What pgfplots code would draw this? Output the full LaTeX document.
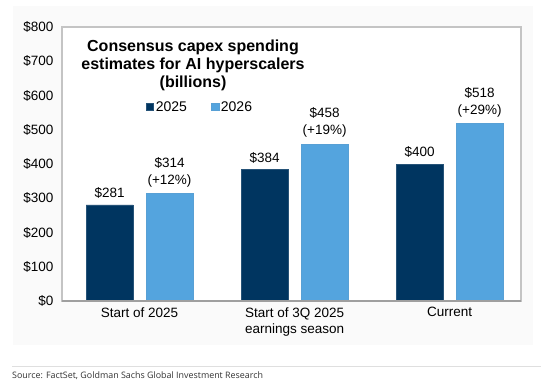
\documentclass[border=0pt]{standalone}
\usepackage{pgfplots}
\pgfplotsset{compat=1.18}
\usepackage{fontspec}
\setmainfont{Liberation Sans}
\newfontfamily\srcfont{Open Sans}
\definecolor{dark}{RGB}{0,53,96}
\definecolor{light}{RGB}{84,164,222}
\definecolor{bg}{RGB}{250,250,250}
\definecolor{frame}{RGB}{196,196,196}
\begin{document}
\begin{tikzpicture}[x=1pt,y=1pt]
\useasboundingbox (0,0) rectangle (547,384);
\fill[bg] (13,39) rectangle (533,378);
\fill[white] (62,83) rectangle (521,357);
\begin{axis}[
  at={(62pt,83pt)}, anchor=south west,
  scale only axis, width=459pt, height=274pt,
  xmin=-0.5, xmax=2.46, ymin=0, ymax=800,
  axis line style={draw=frame, line width=1.2pt},
  major tick length=0pt,
  ytick={0,100,...,800},
  yticklabel={\$\pgfmathprintnumber{\tick}},
  /pgf/number format/assume math mode=true,
  yticklabel style={font=\fontsize{13.5}{16}\selectfont, xshift=-5pt},
  xtick={0,1,2},
  xticklabels={Start of 2025, Start of 3Q 2025\\earnings season, Current},
  xticklabel style={font=\fontsize{13.5}{16.5}\selectfont, align=center, yshift=-3pt},
  ybar, bar width=47pt,
  nodes near coords,
  point meta=explicit symbolic,
  every node near coord/.append style={font=\fontsize{13.5}{17}\selectfont, align=center, black, yshift=3pt},
  legend style={at={(rel axis cs:0.176,0.708)}, anchor=west, draw=none, fill=none,
    font=\fontsize{14}{16}\selectfont, legend columns=2,
    /tikz/every even column/.append style={column sep=22pt}},
  legend image code/.code={\fill[#1] (0pt,-3.6pt) rectangle (7.5pt,3.6pt);},
  clip=false,
]
\addplot[fill=dark, draw=dark!85!white, line width=0.4pt, bar shift=-30pt] coordinates {
  (0,281) [\$281]
  (1,384) [\$384]
  (2,400) [\$400]
};
\addplot[fill=light, draw=light!90!gray, line width=0.4pt, bar shift=30pt] coordinates {
  (0,314) [{\$314\\(+12\%)}]
  (1,458) [{\$458\\(+19\%)}]
  (2,518) [{\$518\\(+29\%)}]
};
\legend{2025,2026}
\draw[gray!75, line width=1.5pt] (rel axis cs:0,0) -- (rel axis cs:1,0);
\end{axis}
\node[font=\bfseries\fontsize{16}{18}\selectfont, align=center] at (193,319) {Consensus capex spending\\estimates for AI hyperscalers\\(billions)};
\draw[gray!25, line width=0.8pt] (12,18) -- (541,18);
\node[font=\srcfont\fontsize{8.9}{10}\selectfont, anchor=west, text=black!80, inner sep=0pt] at (12,8) {Source: FactSet, Goldman Sachs Global Investment Research};
\end{tikzpicture}
\end{document}
